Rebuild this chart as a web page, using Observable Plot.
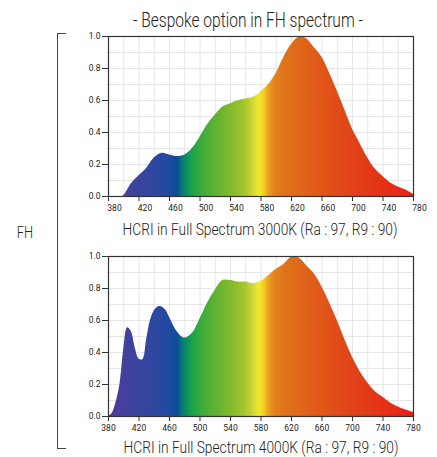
<!DOCTYPE html>
<html><head><meta charset="utf-8">
<script src="https://cdn.jsdelivr.net/npm/d3@7"></script>
<script src="https://cdn.jsdelivr.net/npm/@observablehq/plot@0.6"></script>
<style>
body{margin:0;background:#fff;}
#wrap{position:relative;width:437px;height:457px;overflow:hidden;background:#fff;font-family:Roboto,"Liberation Sans",sans-serif;color:#222;}
.txt{position:absolute;white-space:nowrap;line-height:1;font-weight:300;}
#bracket{position:absolute;z-index:3;left:57px;top:33px;width:9px;height:416px;border-left:1.3px solid #444;border-top:1.3px solid #444;border-bottom:1.3px solid #444;box-sizing:border-box;}
</style></head><body><div id="wrap"><div id="bracket"></div></div>
<script>
// ---- data ----
const titleText = "- Bespoke option in FH spectrum -";
const sideLabel = "FH";
const caption3000 = "HCRI in Full Spectrum 3000K (Ra : 97, R9 : 90)";
const caption4000 = "HCRI in Full Spectrum 4000K (Ra : 97, R9 : 90)";

const xTicks = [380, 420, 460, 500, 540, 580, 620, 660, 700, 740, 780];
const yTicks = [0, 0.2, 0.4, 0.6, 0.8, 1.0];

const nm3000 = [380, 390, 395, 400, 405, 410, 420, 430, 440, 450, 460, 470, 480, 490, 500, 510, 520, 530, 540, 550, 560, 570, 580, 590, 600, 610, 620, 630, 640, 650, 660, 670, 680, 690, 700, 710, 720, 730, 740, 750, 760, 770, 780];
const val3000 = [0, 0, 0, 0.005, 0.04, 0.08, 0.13, 0.175, 0.24, 0.27, 0.26, 0.25, 0.26, 0.30, 0.37, 0.45, 0.51, 0.56, 0.58, 0.60, 0.61, 0.62, 0.655, 0.70, 0.77, 0.87, 0.95, 0.995, 0.985, 0.93, 0.87, 0.77, 0.66, 0.54, 0.42, 0.33, 0.24, 0.17, 0.125, 0.085, 0.06, 0.04, 0.013];

const nm4000 = [380, 385, 390, 395, 400, 405, 410, 415, 420, 425, 430, 435, 440, 445, 450, 455, 460, 470, 480, 490, 500, 510, 520, 530, 540, 550, 560, 570, 580, 590, 600, 610, 620, 630, 640, 650, 660, 670, 680, 690, 700, 710, 720, 730, 740, 750, 760, 770, 780];
const val4000 = [0.0, 0.02, 0.09, 0.20, 0.42, 0.555, 0.53, 0.43, 0.36, 0.355, 0.48, 0.60, 0.66, 0.685, 0.685, 0.665, 0.62, 0.53, 0.49, 0.52, 0.61, 0.71, 0.79, 0.85, 0.85, 0.84, 0.84, 0.83, 0.845, 0.88, 0.92, 0.95, 0.995, 0.99, 0.94, 0.89, 0.81, 0.71, 0.60, 0.48, 0.37, 0.28, 0.21, 0.155, 0.12, 0.085, 0.06, 0.04, 0.025];

const stopNm = [380, 400, 440, 460, 470, 478, 488, 500, 520, 540, 560, 572, 578, 584, 590, 598, 610, 640, 680, 720, 760, 780];
const stopColor = ["#4d3a98", "#44409c", "#2f47a0", "#1f4aa0", "#0b4c9a", "#0a7a72", "#12a050", "#35aa3c", "#5eb232", "#80ba2c", "#a8c630", "#d8dc34", "#f4ea2e", "#f0d028", "#eaa020", "#e4821a", "#e0741a", "#e0621a", "#e04c18", "#e23a18", "#e62a16", "#e82016"];

// ---- helpers ----
const wrap = document.getElementById("wrap");
const FONT = 'Roboto,"Liberation Sans",sans-serif';

function addText(str, cx, cy, size, targetW) {
  const el = document.createElement("div");
  el.className = "txt";
  el.textContent = str;
  el.style.fontSize = size + "px";
  wrap.appendChild(el);
  const w = el.offsetWidth;
  const k = targetW ? targetW / w : 1;
  el.style.left = cx + "px";
  el.style.top = cy + "px";
  el.style.transform = `translate(-50%,-50%) scaleX(${k})`;
  return el;
}

function spectrum(nm, val, id, top, labelDx) {
  const data = nm.map((d, i) => ({nm: d, v: val[i]}));
  const stops = stopNm.map((d, i) => ({nm: d, c: stopColor[i]}));
  const chart = Plot.plot({
    width: 437,
    height: 192,
    marginLeft: 108,
    marginRight: 24,
    marginTop: 10,
    marginBottom: 22,
    style: {fontFamily: FONT, fontSize: "8.5px", color: "#222", background: "transparent"},
    x: {domain: [380, 780], label: null},
    y: {domain: [0, 1], label: null},
    marks: [
      Plot.gridX(d3.range(380, 781, 20), {stroke: "#e6e6e6", strokeOpacity: 1}),
      Plot.gridY(d3.range(0, 1.001, 0.1), {stroke: "#e6e6e6", strokeOpacity: 1}),
      (index, scales) => {
        const defs = d3.create("svg:defs");
        const g = defs.append("linearGradient")
          .attr("id", id)
          .attr("gradientUnits", "userSpaceOnUse")
          .attr("x1", scales.x(380)).attr("x2", scales.x(780))
          .attr("y1", 0).attr("y2", 0);
        const x0 = scales.x(380), x1 = scales.x(780);
        stops.forEach(s => {
          g.append("stop")
            .attr("offset", (scales.x(s.nm) - x0) / (x1 - x0))
            .attr("stop-color", s.c);
        });
        return defs.node();
      },
      Plot.areaY(data, {x: "nm", y: "v", fill: `url(#${id})`, curve: "catmull-rom", clip: true}),
      Plot.frame({stroke: "#333", strokeWidth: 1.2}),
      Plot.axisX({ticks: xTicks, tickSize: 5, text: null, label: null, stroke: "#333"}),
      Plot.axisX({ticks: xTicks, tickSize: 0, tickPadding: 8, dx: labelDx, tickFormat: d => String(d), label: null}),
      Plot.axisY({ticks: yTicks, tickSize: 6, tickPadding: 2, tickFormat: d3.format(".1f"), label: null, stroke: "#333"})
    ]
  });
  chart.style.position = "absolute";
  chart.style.top = top + "px";
  chart.style.left = "0px";
  wrap.appendChild(chart);
}

spectrum(nm3000, val3000, "grad3000", 26, 6);
spectrum(nm4000, val4000, "grad4000", 246, 0);

addText(titleText, 248, 20, 20, 230);
addText(sideLabel, 25, 233, 16, 16);
addText(caption3000, 259.5, 230, 16, 275);
addText(caption4000, 260.5, 448, 16, 275);
</script>
</body></html>
